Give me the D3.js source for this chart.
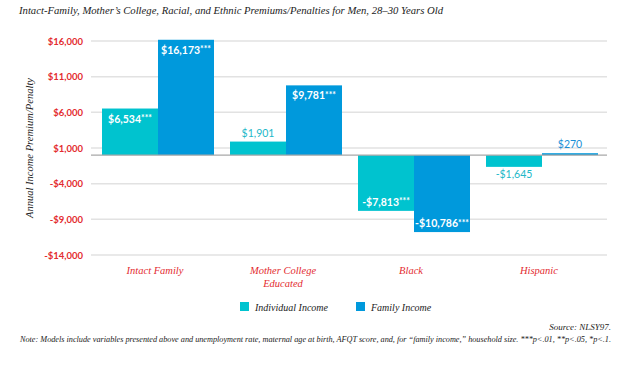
<!DOCTYPE html>
<html><head><meta charset="utf-8">
<script src="https://cdn.jsdelivr.net/npm/d3@7"></script>
<style>body{margin:0;background:#fff}svg{display:block}</style>
</head><body>
<svg id="chart" width="640" height="369"></svg>
<script>
const categories = ["Intact Family", "Mother College|Educated", "Black", "Hispanic"];
const seriesNames = ["Individual Income", "Family Income"];
const individualIncome = [6534, 1901, -7813, -1645];
const familyIncome = [16173, 9781, -10786, 270];
const individualStars = ["***", "", "***", ""];
const familyStars = ["***", "***", "***", ""];
const yTicks = [16000, 11000, 6000, 1000, -4000, -9000, -14000];
const colors = ["#00c3cf", "#0099dc"];
const labelColors = ["#22b8c8", "#1a8fd6"];

const svg = d3.select("#chart");
const serif = "'Liberation Serif','DejaVu Serif',serif";
const sans = "Lato,'Open Sans',sans-serif";
const red = "#e32b2f";

const x0 = d3.scaleBand().domain(d3.range(categories.length)).range([94, 606]).paddingInner(0.125).paddingOuter(0.0625);
const x1 = d3.scaleBand().domain([0, 1]).range([0, x0.bandwidth()]);
const y = d3.scaleLinear().domain([-14000, 16000]).range([255, 41]);

// Title
svg.append("text").attr("x", 19).attr("y", 14).attr("font-family", serif).attr("font-style", "italic")
  .attr("font-size", 11).attr("fill", "#222").attr("textLength", 424).attr("lengthAdjust", "spacingAndGlyphs")
  .text("Intact-Family, Mother’s College, Racial, and Ethnic Premiums/Penalties for Men, 28–30 Years Old");

// Grid + y axis
const yAxis = d3.axisLeft(y).tickValues(yTicks).tickSize(0).tickPadding(0)
  .tickFormat(d => (d < 0 ? "-$" : "$") + d3.format(",")(Math.abs(d)));
const gy = svg.append("g").attr("transform", "translate(84,0)").call(yAxis);
gy.select(".domain").remove();
gy.selectAll("text").attr("font-family", sans).attr("font-weight", "bold").attr("font-size", 9.5).attr("fill", red).attr("dx", -1);

svg.append("g").selectAll("line").data(yTicks).join("line")
  .attr("x1", 91).attr("x2", 607).attr("y1", d => y(d)).attr("y2", d => y(d))
  .attr("stroke", "#e2e2e2").attr("stroke-width", 1.5);

// Y title
svg.append("text").attr("transform", `translate(33,${(y(16000)+y(-14000))/2}) rotate(-90)`)
  .attr("text-anchor", "middle").attr("font-family", serif).attr("font-style", "italic")
  .attr("font-size", 10.5).attr("fill", "#222").attr("textLength", 140).attr("lengthAdjust", "spacingAndGlyphs")
  .text("Annual Income Premium/Penalty");

// Bars
const rows = categories.map((c, i) => ({ i, vals: [individualIncome[i], familyIncome[i]], stars: [individualStars[i], familyStars[i]] }));
const groups = svg.append("g").selectAll("g").data(rows).join("g").attr("transform", d => `translate(${x0(d.i)},0)`);
groups.selectAll("rect").data(d => d.vals.map((v, s) => ({ v, s }))).join("rect")
  .attr("x", d => x1(d.s)).attr("width", x1.bandwidth())
  .attr("y", d => y(Math.max(0, d.v))).attr("height", d => Math.abs(y(d.v) - y(0)))
  .attr("fill", d => colors[d.s]);

// baseline
svg.append("line").attr("x1", 91).attr("x2", 607).attr("y1", y(0)).attr("y2", y(0)).attr("stroke", "#a8a8a8").attr("stroke-width", 1.2);

// Value labels
const fmt = v => (v < 0 ? "-$" : "$") + d3.format(",")(Math.abs(v));
groups.each(function (d) {
  const g = d3.select(this);
  d.vals.forEach((v, s) => {
    const sig = d.stars[s] !== "";
    let yy;
    if (sig) yy = v >= 0 ? y(v) + 14 : y(v) - 5;
    else yy = v >= 0 ? y(v) - 5 : y(v) + 11;
    const t = g.append("text").attr("x", x1(s) + x1.bandwidth() / 2).attr("y", yy)
      .attr("text-anchor", "middle").attr("font-family", sans).attr("font-size", 10.5)
      .attr("font-weight", sig ? "bold" : "normal").attr("fill", sig ? "#fff" : labelColors[s]);
    t.append("tspan").text(fmt(v));
    if (sig) t.append("tspan").attr("font-size", 8.5).attr("dy", -1.5).text(d.stars[s]);
  });
});

// Category labels
svg.append("g").selectAll("text").data(categories).join("text")
  .attr("x", (d, i) => x0(i) + x0.bandwidth() / 2 - 3).attr("y", 274)
  .attr("text-anchor", "middle").attr("font-family", serif).attr("font-style", "italic")
  .attr("font-size", 10.5).attr("fill", red)
  .each(function (d) {
    const parts = d.split("|");
    d3.select(this).selectAll("tspan").data(parts).join("tspan")
      .attr("x", d3.select(this).attr("x")).attr("dy", (p, k) => k === 0 ? 0 : 13).text(p => p);
  });

// Legend
const leg = svg.append("g");
const legX = [240, 356];
seriesNames.forEach((n, s) => {
  leg.append("rect").attr("x", legX[s]).attr("y", 302).attr("width", 9).attr("height", 9).attr("fill", colors[s]);
  leg.append("text").attr("x", legX[s] + 15).attr("y", 310.5).attr("font-family", serif).attr("font-style", "italic")
    .attr("font-size", 10).attr("fill", "#222").text(n);
});

// Source / Note
svg.append("text").attr("x", 611).attr("y", 330).attr("text-anchor", "end").attr("font-family", serif)
  .attr("font-style", "italic").attr("font-size", 9).attr("fill", "#222").text("Source: NLSY97.");
svg.append("text").attr("x", 611).attr("y", 342).attr("text-anchor", "end").attr("font-family", serif)
  .attr("font-style", "italic").attr("font-size", 8.5).attr("fill", "#222")
  .attr("textLength", 591).attr("lengthAdjust", "spacingAndGlyphs")
  .text("Note: Models include variables presented above and unemployment rate, maternal age at birth, AFQT score, and, for “family income,” household size. ***p<.01, **p<.05, *p<.1.");
</script>
</body></html>
